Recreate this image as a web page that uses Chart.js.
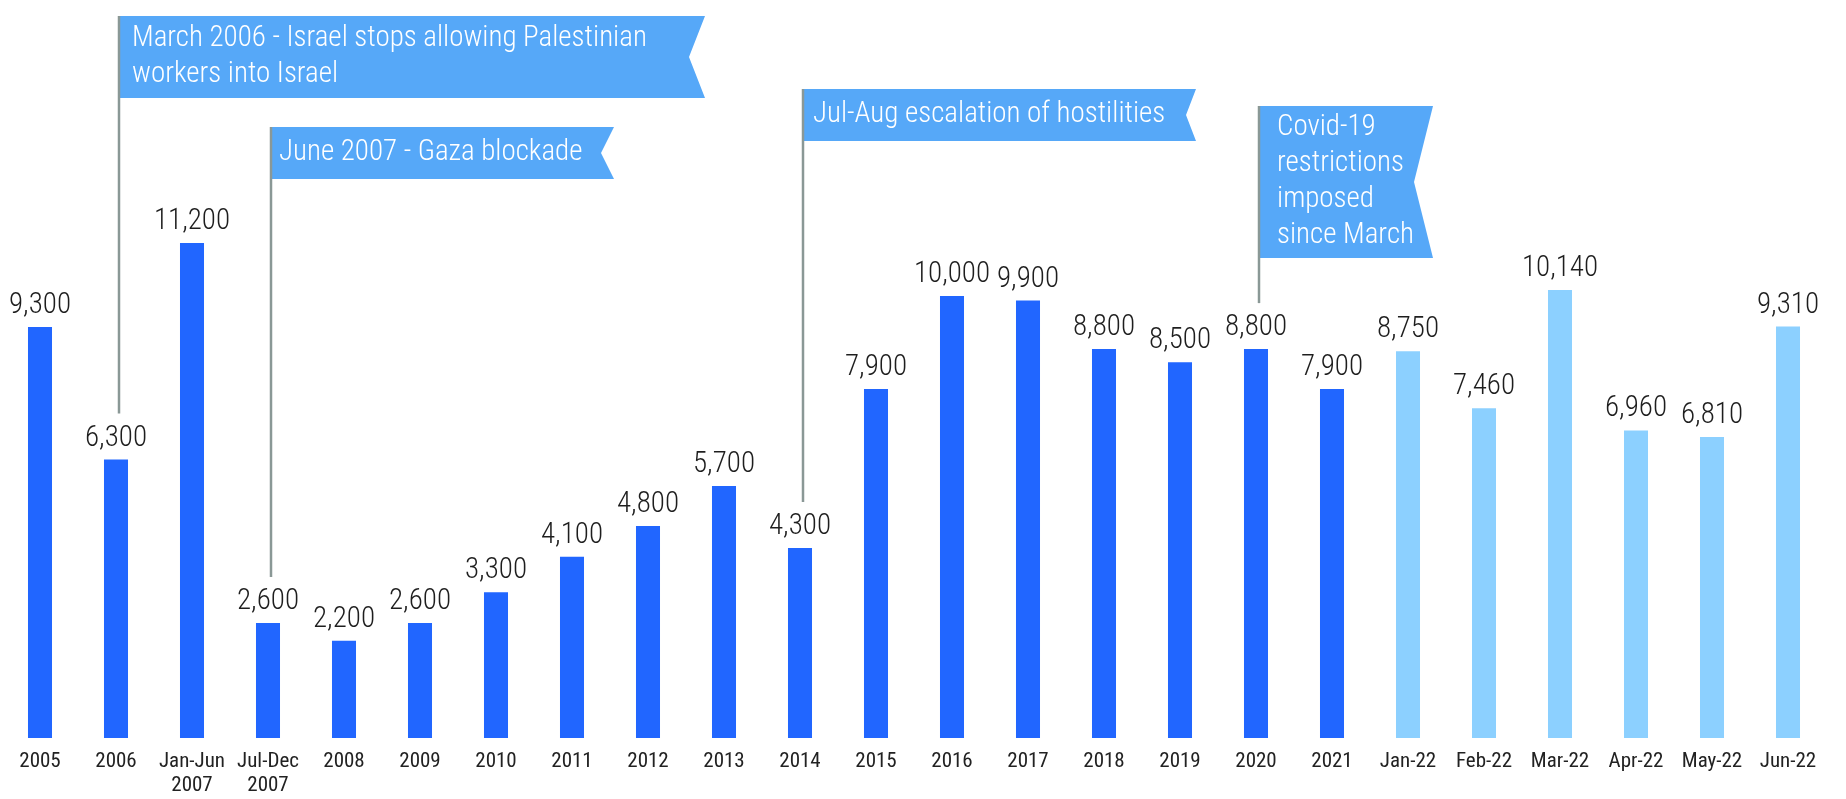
<!DOCTYPE html>
<html>
<head>
<meta charset="utf-8">
<script src="https://cdn.jsdelivr.net/npm/chart.js@4"></script>
<style>
  body { margin: 0; background: #fff; }
  #wrap { width: 1846px; height: 799px; position: relative; }
</style>
</head>
<body>
<div id="wrap"><canvas id="chart"></canvas></div>
<script>
// data
const annualLabels = ['2005', '2006', ['Jan-Jun', '2007'], ['Jul-Dec', '2007'], '2008', '2009', '2010', '2011', '2012', '2013', '2014', '2015', '2016', '2017', '2018', '2019', '2020', '2021'];
const annualValues = [9300, 6300, 11200, 2600, 2200, 2600, 3300, 4100, 4800, 5700, 4300, 7900, 10000, 9900, 8800, 8500, 8800, 7900];
const monthlyLabels = ['Jan-22', 'Feb-22', 'Mar-22', 'Apr-22', 'May-22', 'Jun-22'];
const monthlyValues = [8750, 7460, 10140, 6960, 6810, 9310];

// event flags: which bar the pole stands on, and the text
const eventAt = [1, 3, 10, 16];
const eventText = [
  ['March 2006 - Israel stops allowing Palestinian', 'workers into Israel'],
  ['June 2007 - Gaza blockade'],
  ['Jul-Aug escalation of hostilities'],
  ['Covid-19', 'restrictions', 'imposed', 'since March']
];

const labels = annualLabels.concat(monthlyLabels);
const values = annualValues.concat(monthlyValues);

const darkBlue = '#2166ff';
const lightBlue = '#8cd0ff';
const flagBlue = '#56a8f8';
const poleGray = '#8a9896';

// flag boxes (layout only)
const flagBoxes = [
  { width: 586, top: 16, height: 82, notch: 16, pad: 13 },
  { width: 343, top: 127, height: 52, notch: 13, pad: 8 },
  { width: 393, top: 89, height: 52, notch: 10, pad: 10 },
  { width: 174, top: 106, height: 152, notch: 19, pad: 18 }
];

// pick a narrow font that is installed
const pickFont = (list) => {
  const c = document.createElement('canvas').getContext('2d');
  const sample = 'abcdefghijk 0123456789 ABC';
  c.font = '40px monospace';
  const base = c.measureText(sample).width;
  for (const f of list) {
    c.font = '40px "' + f + '", monospace';
    if (c.measureText(sample).width !== base) return f;
  }
  return 'Roboto';
};
const narrow = pickFont(['Roboto Condensed', 'Liberation Sans Narrow', 'Arial Narrow', 'DejaVu Sans Condensed']);
const family = '"' + narrow + '", Roboto, sans-serif';

const overlay = {
  id: 'overlay',
  afterDatasetsDraw(chart) {
    const ctx = chart.ctx;
    const bars = chart.getDatasetMeta(0).data;
    ctx.save();
    // value labels
    ctx.fillStyle = '#1e1e1e';
    ctx.font = '300 29px ' + family;
    ctx.textAlign = 'center';
    ctx.textBaseline = 'alphabetic';
    bars.forEach((bar, i) => {
      ctx.fillText(values[i].toLocaleString('en-US'), bar.x, bar.y - 14);
    });
    // flags
    eventAt.forEach((idx, k) => {
      const b = flagBoxes[k];
      const bar = bars[idx];
      const left = bar.x + 3;
      const right = left + b.width;
      ctx.fillStyle = flagBlue;
      ctx.beginPath();
      ctx.moveTo(left, b.top);
      ctx.lineTo(right, b.top);
      ctx.lineTo(right - b.notch, b.top + b.height / 2);
      ctx.lineTo(right, b.top + b.height);
      ctx.lineTo(left, b.top + b.height);
      ctx.closePath();
      ctx.fill();
      ctx.strokeStyle = poleGray;
      ctx.lineWidth = 2.5;
      ctx.beginPath();
      ctx.moveTo(left, b.top);
      ctx.lineTo(left, bar.y - 46);
      ctx.stroke();
      ctx.fillStyle = '#ffffff';
      ctx.font = '300 29px ' + family;
      ctx.textAlign = 'left';
      ctx.textBaseline = 'middle';
      const lines = eventText[k];
      const mid = b.top + b.height / 2;
      lines.forEach((t, j) => {
        ctx.fillText(t, left + b.pad, mid + (j - (lines.length - 1) / 2) * 36);
      });
    });
    ctx.restore();
  }
};

const chart = new Chart(document.getElementById('chart'), {
  type: 'bar',
  data: {
    labels: labels,
    datasets: [{
      data: values,
      backgroundColor: values.map((v, i) => i < annualValues.length ? darkBlue : lightBlue),
      barPercentage: 0.316,
      categoryPercentage: 1
    }]
  },
  options: {
    responsive: true,
    maintainAspectRatio: false,
    animation: false,
    layout: { padding: { left: 2, right: 20, top: 0, bottom: 0 } },
    plugins: {
      legend: { display: false },
      tooltip: { enabled: false }
    },
    scales: {
      x: {
        grid: { display: false, drawTicks: false },
        border: { display: false },
        afterFit: (scale) => { scale.height = 61; },
        ticks: {
          autoSkip: false,
          maxRotation: 0,
          padding: 12,
          color: '#222',
          font: { family: family, size: 21, lineHeight: 1.15 }
        }
      },
      y: {
        display: false,
        min: 0,
        max: 16700
      }
    }
  },
  plugins: [overlay]
});
</script>
</body>
</html>
